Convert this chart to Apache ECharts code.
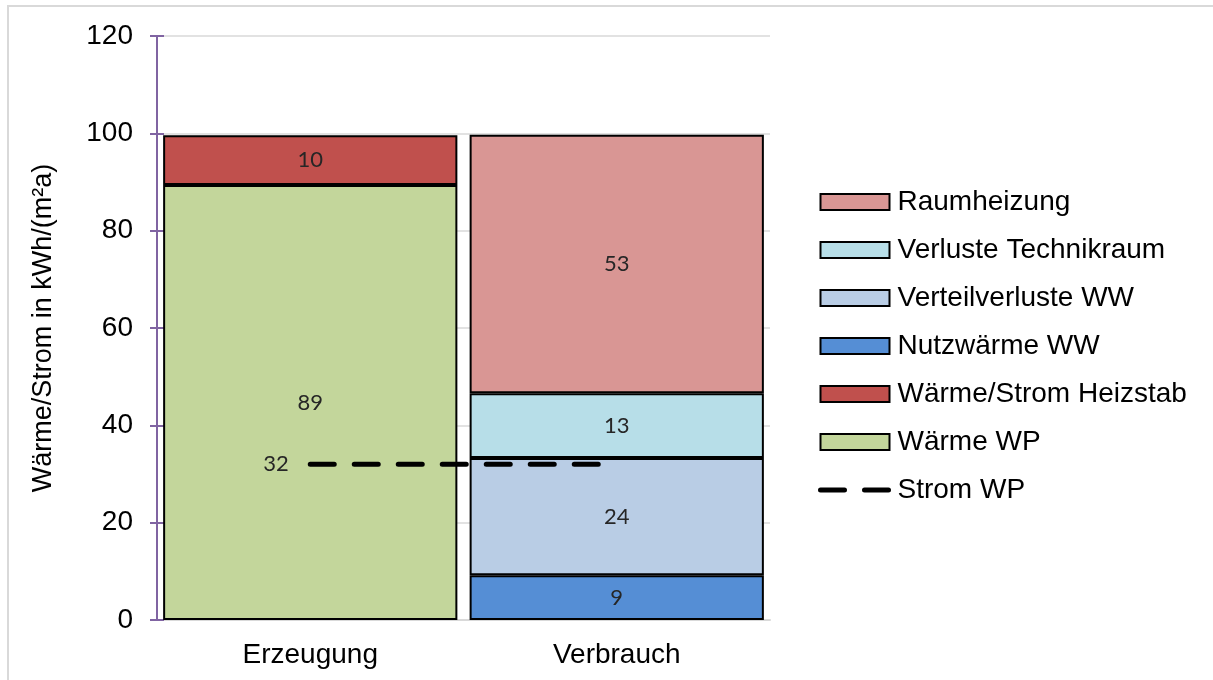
<!DOCTYPE html>
<html>
<head>
<meta charset="utf-8">
<script src="https://cdn.jsdelivr.net/npm/echarts@6/dist/echarts.min.js"></script>
<style>
  html, body { margin: 0; padding: 0; background: #fff; }
  #chart { width: 1213px; height: 680px; }
</style>
</head>
<body>
<div id="chart"></div>
<script>
// categories and values (kWh/(m²a))
const categories = ['Erzeugung', 'Verbrauch'];
const waermeWP = [89.4, null];
const heizstab = [10.2, null];
const nutzwaermeWW = [null, 9.2];
const verteilverlusteWW = [null, 24.1];
const verlusteTechnik = [null, 13.3];
const raumheizung = [null, 53.1];
const stromWP = [32, 32];
const yTicks = { min: 0, max: 120, interval: 20 };

const labelFont = 'Lato, "Open Sans", sans-serif';
const mainFont = '"Liberation Sans", Arial, sans-serif';

function barSeries(name, data, color) {
  return {
    name: name,
    type: 'bar',
    stack: 'total',
    data: data,
    barWidth: '96%',
    itemStyle: { color: color, borderColor: '#000', borderWidth: 2 },
    label: {
      show: true,
      position: 'inside',
      fontFamily: labelFont,
      fontSize: 22,
      color: '#262626',
      formatter: p => Math.round(p.value)
    }
  };
}

const myChart = echarts.init(document.getElementById('chart'));

const option = {
  animation: false,
  textStyle: { fontFamily: mainFont },
  graphic: [{
    type: 'rect',
    shape: { x: 8, y: 6, width: 1240, height: 720 },
    style: { fill: 'none', stroke: '#d9d9d9', lineWidth: 2 },
    silent: true
  }],
  grid: { left: 157, right: 443, top: 36, bottom: 60 },
  legend: {
    orient: 'vertical',
    left: 818,
    top: 187,
    padding: 0,
    itemWidth: 69,
    itemHeight: 16,
    itemGap: 18,
    textStyle: { fontFamily: mainFont, fontSize: 28, color: '#000', lineHeight: 30, padding: [0, 0, 0, 3] },
    itemStyle: { borderColor: '#000', borderWidth: 2 },
    data: [
      { name: 'Raumheizung', icon: 'rect' },
      { name: 'Verluste Technikraum', icon: 'rect' },
      { name: 'Verteilverluste WW', icon: 'rect' },
      { name: 'Nutzwärme WW', icon: 'rect' },
      { name: 'Wärme/Strom Heizstab', icon: 'rect' },
      { name: 'Wärme WP', icon: 'rect' },
      {
        name: 'Strom WP',
        itemStyle: { opacity: 0 },
        lineStyle: { color: '#000', width: 5, type: [24, 20], cap: 'round' }
      }
    ]
  },
  xAxis: {
    type: 'category',
    data: categories,
    axisLine: { lineStyle: { color: '#d9d9d9', width: 2 } },
    axisTick: { show: false },
    axisLabel: { fontFamily: mainFont, fontSize: 28, color: '#000', margin: 21 }
  },
  yAxis: [{
    type: 'value',
    min: yTicks.min,
    max: yTicks.max,
    interval: yTicks.interval,
    name: 'Wärme/Strom in kWh/(m²a)',
    nameLocation: 'middle',
    nameRotate: 90,
    nameGap: 100,
    nameTextStyle: { fontFamily: mainFont, fontSize: 27, color: '#000' },
    axisLine: { show: true, lineStyle: { color: '#8064a2', width: 2 } },
    axisTick: { show: true, length: 7, lineStyle: { color: '#8064a2', width: 2 } },
    axisLabel: { fontFamily: mainFont, fontSize: 28, color: '#000', margin: 24 },
    splitLine: { lineStyle: { color: '#d9d9d9', width: 1.5 } }
  }, {
    type: 'value',
    position: 'left',
    min: yTicks.min,
    max: yTicks.max,
    interval: yTicks.interval,
    axisLine: { show: false },
    axisTick: { show: true, inside: true, length: 7, lineStyle: { color: '#8064a2', width: 2 } },
    axisLabel: { show: false },
    splitLine: { show: false }
  }],
  series: [
    barSeries('Wärme WP', waermeWP, '#c3d69b'),
    barSeries('Wärme/Strom Heizstab', heizstab, '#c0504d'),
    barSeries('Nutzwärme WW', nutzwaermeWW, '#558ed5'),
    barSeries('Verteilverluste WW', verteilverlusteWW, '#b9cde5'),
    barSeries('Verluste Technikraum', verlusteTechnik, '#b7dee8'),
    barSeries('Raumheizung', raumheizung, '#d99694'),
    {
      name: 'Strom WP',
      type: 'line',
      data: stromWP,
      symbol: 'circle',
      symbolSize: 1,
      z: 5,
      lineStyle: { color: '#000', width: 5, type: [24, 20], cap: 'round' },
      itemStyle: { color: 'rgba(0,0,0,0)' },
      label: {
        show: true,
        position: 'left',
        distance: 21,
        fontFamily: labelFont,
        fontSize: 22,
        color: '#262626',
        formatter: p => p.dataIndex === 0 ? Math.round(p.value) : ''
      }
    }
  ]
};

myChart.setOption(option);
</script>
</body>
</html>
